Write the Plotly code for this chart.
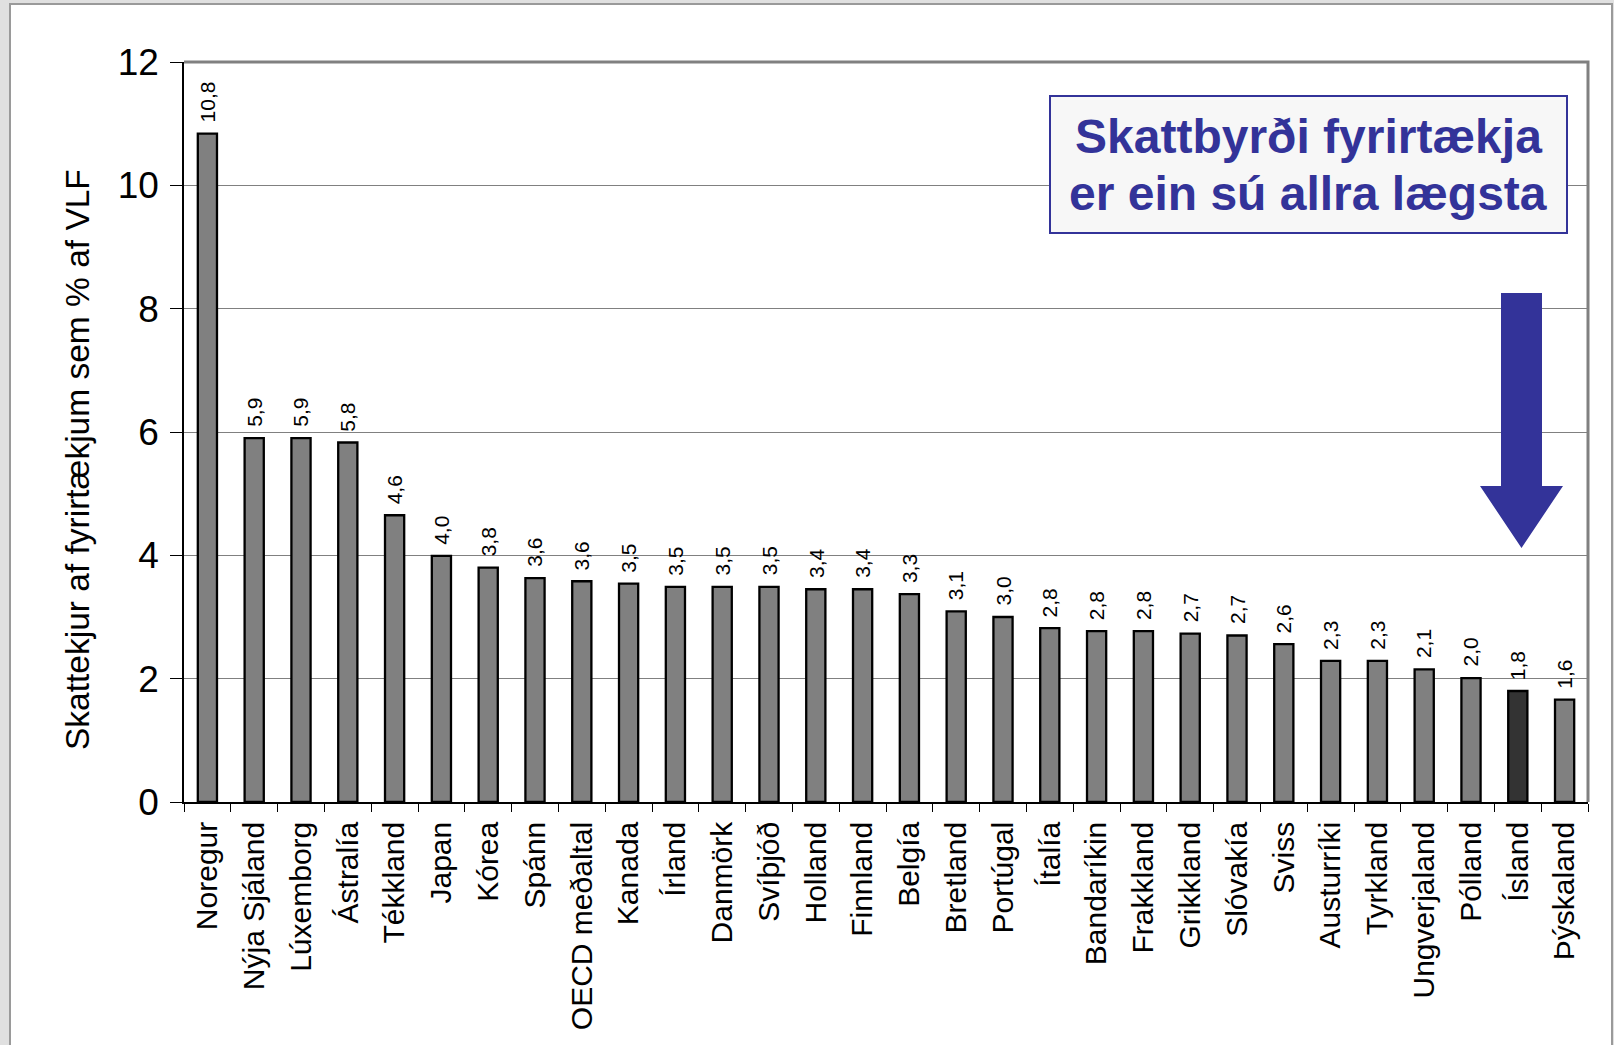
import plotly.graph_objects as go

# ---------------- data ----------------
countries = ["Noregur", "Nýja Sjáland", "Lúxemborg", "Ástralía", "Tékkland", "Japan",
             "Kórea", "Spánn", "OECD meðaltal", "Kanada", "Írland", "Danmörk",
             "Svíþjóð", "Holland", "Finnland", "Belgía", "Bretland", "Portúgal",
             "Ítalía", "Bandaríkin", "Frakkland", "Grikkland", "Slóvakía", "Sviss",
             "Austurríki", "Tyrkland", "Ungverjaland", "Pólland", "Ísland", "Þýskaland"]
values = [10.84, 5.90, 5.90, 5.83, 4.65, 3.99, 3.80, 3.63, 3.58, 3.54, 3.49, 3.49,
          3.49, 3.45, 3.45, 3.37, 3.09, 3.00, 2.82, 2.77, 2.77, 2.73, 2.70, 2.56,
          2.29, 2.29, 2.15, 2.01, 1.80, 1.66]
value_labels = ["10,8", "5,9", "5,9", "5,8", "4,6", "4,0", "3,8", "3,6", "3,6", "3,5",
                "3,5", "3,5", "3,5", "3,4", "3,4", "3,3", "3,1", "3,0", "2,8", "2,8",
                "2,8", "2,7", "2,7", "2,6", "2,3", "2,3", "2,1", "2,0", "1,8", "1,6"]
highlight = "Ísland"
y_title = "Skattekjur af fyrirtækjum sem % af VLF"
box_lines = ["Skattbyrði fyrirtækja", "er ein sú allra lægsta"]

# ---------------- layout geometry ----------------
W, H = 1614, 1045
ML, MR, MT, MB = 184, 26, 62, 243
PW, PH = W - ML - MR, H - MT - MB
FONT = "Liberation Sans, Arial, sans-serif"
BLUE = "#333399"


def px(x):
    return (x - ML) / PW


def py(y):
    return (H - MB - y) / PH


bar_colors = ["#333333" if c == highlight else "#808080" for c in countries]

fig = go.Figure()
fig.add_trace(go.Bar(
    x=countries, y=values,
    marker=dict(color=bar_colors, line=dict(color="black", width=2.3)),
    hoverinfo="x+y",
))

annotations = []
for c, v, lab in zip(countries, values, value_labels):
    annotations.append(dict(
        x=c, y=v, xref="x", yref="y", text=lab, showarrow=False,
        textangle=-90, yanchor="bottom", xanchor="center", yshift=9,
        font=dict(family=FONT, size=21, color="black"),
    ))

# y-axis title as annotation (offset from centre as in the reference)
annotations.append(dict(
    x=px(77), y=py(460), xref="paper", yref="paper", text=y_title,
    showarrow=False, textangle=-90, xanchor="center", yanchor="middle",
    font=dict(family=FONT, size=33.5, color="black"),
))

# callout text lines
for line_text, cy in zip(box_lines, [137, 194]):
    annotations.append(dict(
        x=px(1308), y=py(cy), xref="paper", yref="paper", text=line_text,
        showarrow=False, xanchor="center", yanchor="middle",
        font=dict(family=FONT, size=48, color=BLUE, weight="bold"),
    ))

shapes = [
    # slide frame
    dict(type="rect", xref="paper", yref="paper",
         x0=px(10), x1=px(1612), y0=py(1080), y1=py(4),
         fillcolor="white", line=dict(color="#9a9a9a", width=2), layer="below"),
    # plot frame top & right
    dict(type="path", xref="paper", yref="paper",
         path="M 0,1 L 1,1 L 1,0", line=dict(color="#808080", width=3), layer="above"),
    # callout box
    dict(type="rect", xref="paper", yref="paper",
         x0=px(1050), x1=px(1567), y0=py(233), y1=py(96),
         fillcolor="#f7f7f7", line=dict(color=BLUE, width=2), layer="above"),
    # down arrow
    dict(type="path", xref="paper", yref="paper",
         path=(f"M {px(1501)},{py(293)} L {px(1542)},{py(293)} L {px(1542)},{py(486)} "
               f"L {px(1563)},{py(486)} L {px(1521.5)},{py(548)} L {px(1480)},{py(486)} "
               f"L {px(1501)},{py(486)} Z"),
         fillcolor=BLUE, line=dict(color=BLUE, width=0), layer="above"),
]

fig.update_layout(
    width=W, height=H,
    margin=dict(l=ML, r=MR, t=MT, b=MB, pad=0),
    paper_bgcolor="#e0e0e0", plot_bgcolor="white",
    bargap=0.59, showlegend=False,
    annotations=annotations, shapes=shapes,
    font=dict(family=FONT, color="black"),
    xaxis=dict(
        type="category", tickangle=-90, ticks="outside", tickson="boundaries",
        ticklen=8, tickcolor="black", tickwidth=1,
        showline=True, linecolor="black", linewidth=1.5,
        tickfont=dict(family=FONT, size=30, color="black"),
        showgrid=False, ticklabelstandoff=6,
    ),
    yaxis=dict(
        range=[0, 12], dtick=2, ticks="outside", ticklen=12, tickcolor="black",
        tickwidth=1, showline=True, linecolor="black", linewidth=1.5,
        showgrid=True, gridcolor="#808080", gridwidth=1,
        tickfont=dict(family=FONT, size=37, color="black"),
        ticklabelstandoff=4, zeroline=False,
    ),
)

fig.write_html(
    "out.html",
    config={"displayModeBar": False},
    post_script="document.body.style.margin='0';document.body.style.overflow='hidden';",
)
